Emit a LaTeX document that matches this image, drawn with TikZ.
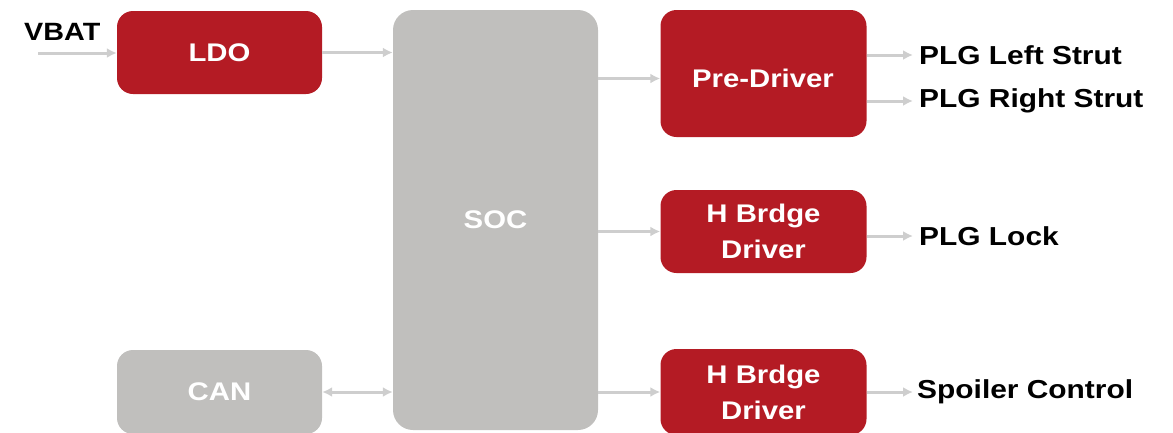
\documentclass[tikz,border=0pt]{standalone}
\usepackage{fontspec}
\setmainfont{Liberation Sans}
\newfontfamily\widesans[FakeStretch=1.15]{Liberation Sans}
\usetikzlibrary{arrows.meta}
\definecolor{blockred}{RGB}{180,27,36}
\definecolor{blockgray}{RGB}{192,191,189}
\definecolor{wiregray}{RGB}{206,206,206}
\tikzset{
  redbox/.style={draw=none, fill=blockred, rounded corners=16pt, inner sep=0pt,
    minimum width=206pt, text=white, align=center,
    font=\widesans\bfseries\fontsize{25.5}{36}\selectfont},
  graybox/.style={redbox, fill=blockgray},
  wire/.style={draw=wiregray, line width=3pt, -{Latex[length=10pt,width=10pt]}},
  biwire/.style={wire, {Latex[length=10pt,width=10pt]}-{Latex[length=10pt,width=10pt]}},
  sig/.style={anchor=west, inner sep=0pt, text=black, font=\widesans\bfseries\fontsize{26}{30}\selectfont}
}
\begin{document}
\begin{tikzpicture}[x=1pt,y=-1pt]
\useasboundingbox (0,0) rectangle (1173,432);
\clip (0,0) rectangle (1173,432);

% blocks
\node[redbox, minimum width=205pt, minimum height=83pt] (ldo) at (219.5,52.5) {LDO};
\node[graybox, minimum width=205pt, minimum height=420pt, rounded corners=20pt] (soc) at (495.5,220) {SOC};
\node[graybox, minimum width=205pt, minimum height=84pt] (can) at (219.5,392) {CAN};
\node[redbox, minimum height=127pt] (pre) at (763.5,73.5) {};
\node[text=white, font=\widesans\bfseries\fontsize{25.5}{30}\selectfont] (pretext) at (763,78.5) {Pre-Driver};
\node[redbox, minimum height=83pt] (hb1) at (763.5,231.5) {H Brdge\\Driver};
\node[redbox, minimum height=86pt] (hb2) at (763.5,392) {H Brdge\\Driver};

% supply input
\node[sig, font=\widesans\bfseries\fontsize{25}{28}\selectfont] (vbat) at (24,32) {VBAT};
\coordinate (vin) at (38,53);

% output signal names
\node[sig] (left) at (919,55) {PLG Left Strut};
\node[sig] (right) at (919,101) {PLG Right Strut};
\node[sig] (lock) at (919,236) {PLG Lock};
\node[sig] (spoiler) at (917,392) {Spoiler Control};

% connections
\draw[wire] (vin) -- (ldo.west |- vin);
\draw[wire] (ldo.east) -- (soc.west |- ldo.east);
\draw[wire] (soc.east |- pretext) -- (pre.west |- pretext);
\draw[wire] (soc.east |- hb1) -- (hb1.west);
\draw[wire] (soc.east |- hb2) -- (hb2.west);
\draw[biwire] (can.east) -- (soc.west |- can.east);
\draw[wire] (pre.east |- left.west) -- ([xshift=-6pt]left.west);
\draw[wire] (pre.east |- right.west) -- ([xshift=-6pt]right.west);
\draw[wire] (hb1.east |- lock.west) -- ([xshift=-6pt]lock.west);
\draw[wire] (hb2.east |- spoiler.west) -- ([xshift=-4pt]spoiler.west);
\end{tikzpicture}
\end{document}
